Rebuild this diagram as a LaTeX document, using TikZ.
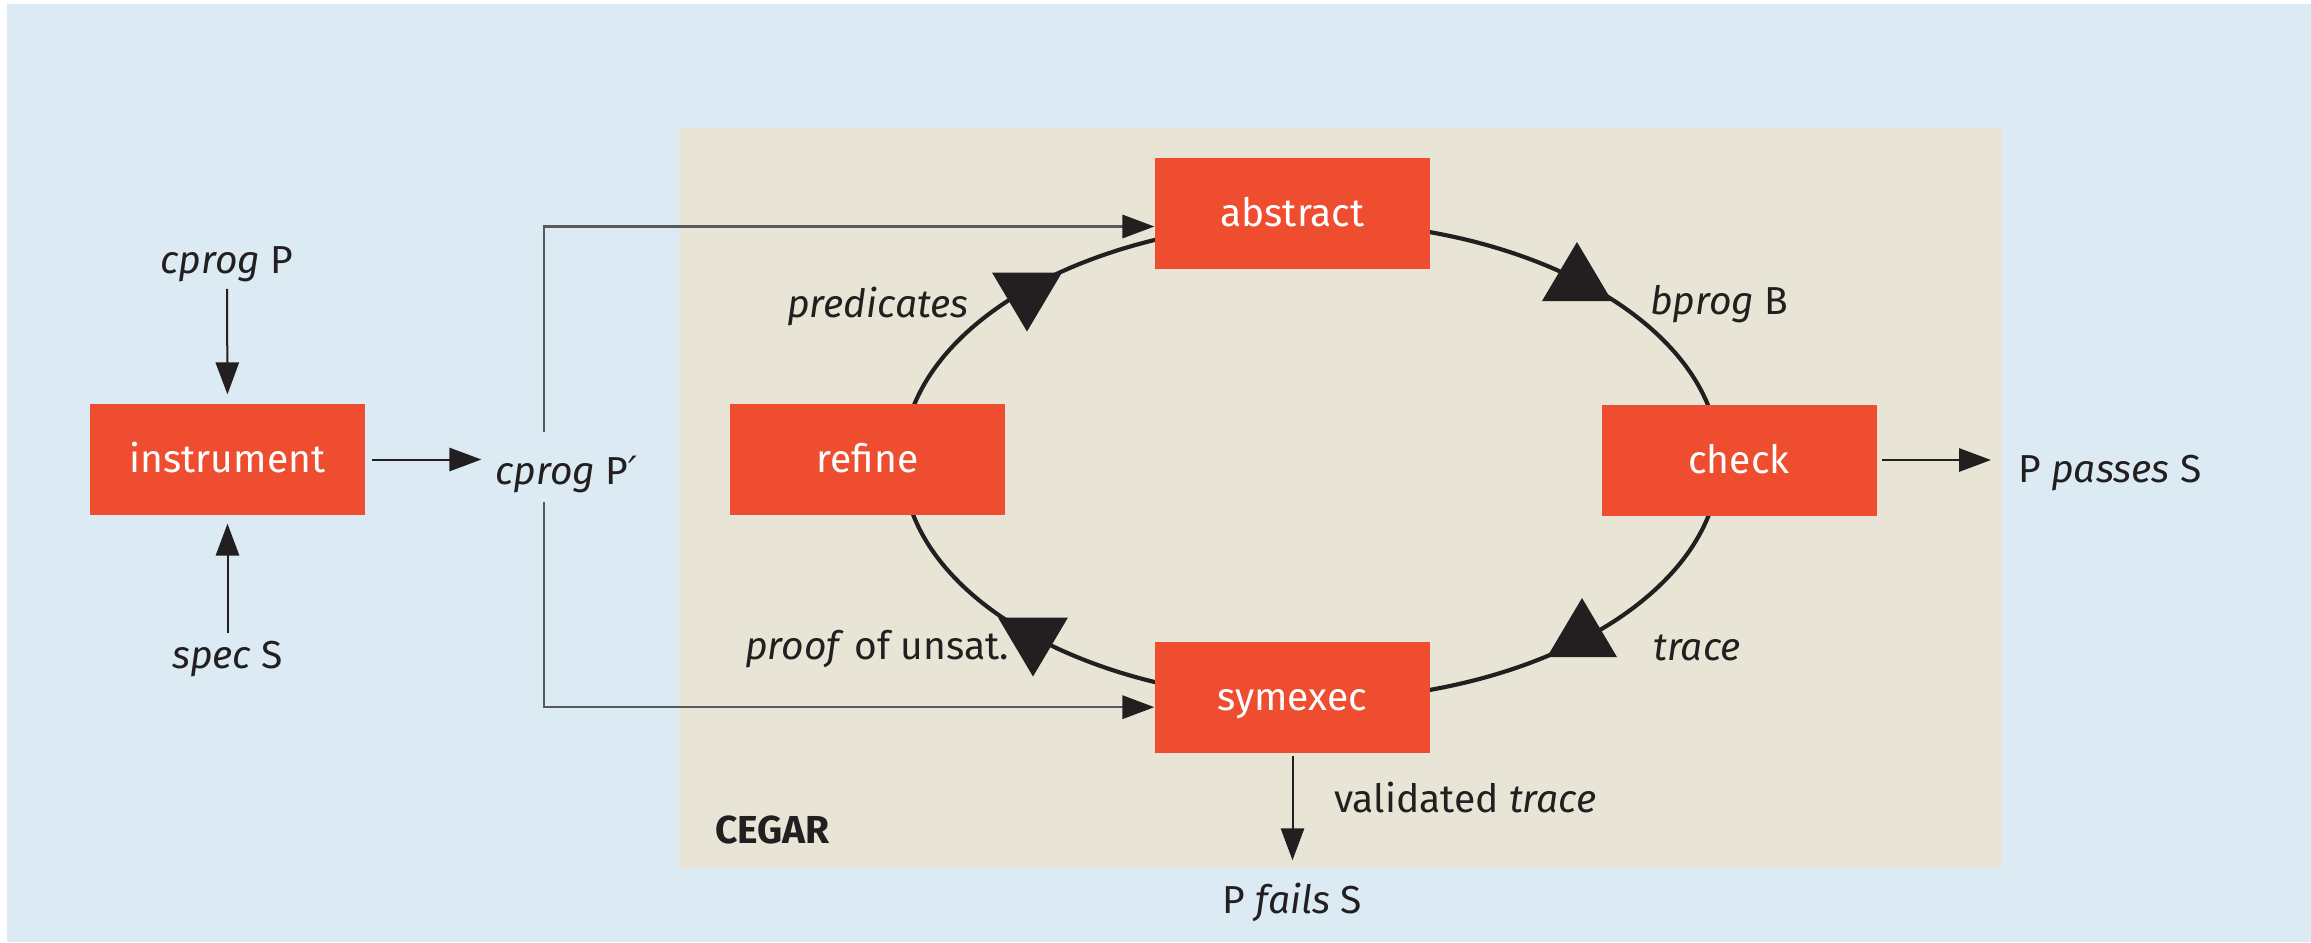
\documentclass[tikz,border=0pt]{standalone}
\usepackage{fontspec}
\setmainfont{Fira Sans}
\newfontfamily\primefont{DejaVu Sans}
\usetikzlibrary{arrows.meta}
\definecolor{bgblue}{RGB}{220,234,243}
\definecolor{bgbeige}{RGB}{233,229,214}
\definecolor{boxred}{RGB}{239,77,47}
\definecolor{ink}{RGB}{35,31,32}
\definecolor{feed}{RGB}{88,89,91}
\begin{document}
\begin{tikzpicture}[x=0.3pt,y=-0.3pt,
  every node/.style={text=ink},
  font=\fontsize{11.7}{14}\selectfont,
  stage/.style={fill=boxred, text=white, minimum width=82.5pt, minimum height=33.3pt,
    inner sep=0pt, text height=8.5pt, text depth=0.7pt},
  lbl/.style={inner sep=2pt},
  arr/.style={draw=ink, line width=0.6pt, -{Triangle[length=9.6pt,width=7pt]}},
  feedarr/.style={draw=feed, line width=0.75pt, -{Triangle[length=9.6pt,width=7pt,color=ink]}},
  cycleline/.style={draw=ink, line width=1.25pt},
  tridown/.pic={\fill[ink] (-35,0) -- (35,0) -- (0,59) -- cycle;},
  triup/.pic={\fill[ink] (0,0) -- (-35,59) -- (35,59) -- cycle;}
]
\useasboundingbox (0,0) rectangle (2311,942);
% backgrounds
\fill[white] (0,0) rectangle (2311,942);
\fill[bgblue] (7,4) rectangle (2311,942);
\fill[bgbeige] (679,128) rectangle (2002,868);

% the CEGAR cycle
\coordinate (loopc) at (1311,461);
\draw[cycleline] (loopc) ellipse [x radius=408.2, y radius=239.2];
\pic at (1027,272.5) {tridown};
\pic at (1577,242) {triup};
\pic at (1033,617.5) {tridown};
\pic at (1582,598) {triup};

% stages
\node[stage] (instrument) at (227.5,459.5) {instrument};
\node[stage] (abstract) at (1292.5,213.5) {abstract};
\node[stage] (refine) at (867.5,459.5) {refine};
\node[stage] (check) at (1739,460) {check};
\node[stage] (symexec) at (1292.5,697.5) {symexec};

% labels
\node[lbl, anchor=base] (cprogP) at (227,273) {\textit{cprog} P};
\node[lbl, anchor=base] (specS) at (227.5,668) {\textit{spec} S};
\node[lbl, anchor=base west] (cprogPp) at (488,484) {\textit{cprog} P{\primefont\itshape ′}};
\node[lbl, anchor=base west] (predicates) at (780,317) {\textit{predicates}};
\node[lbl, anchor=base west] (bprogB) at (1643,314) {\textit{bprog} B};
\node[lbl, anchor=base west] (proof) at (738,659) {\textit{proof} of unsat.};
\node[lbl, anchor=base west] (tracelbl) at (1646,660) {\textit{trace}};
\node[lbl, anchor=base west] (validated) at (1327,812) {validated \textit{trace}};
\node[lbl, anchor=base] (fails) at (1292.5,913) {P \textit{fails} S};
\node[lbl, anchor=base west] (passes) at (2011,482) {P \textit{passes} S};
\node[lbl, anchor=base west, font=\fontsize{11.7}{14}\selectfont\bfseries] (cegar) at (708,843) {CEGAR};

% inputs and outputs
\draw[arr, shorten >=2.7pt] (cprogP.south) -- (instrument.north);
\draw[arr, shorten >=2.4pt] (specS.north) -- (instrument.south);
\draw[arr, shorten <=2pt, shorten >=2pt] (instrument.east) -- (instrument.east -| cprogPp.west);
\draw[arr, shorten <=1.5pt, shorten >=6pt] (check.east) -- (check.east -| passes.west);
\draw[arr, shorten <=0.6pt, shorten >=4.5pt] (symexec.south) -- (fails.north);

% the instrumented program feeds abstract and symexec
\coordinate (ptop) at (544,432);
\coordinate (pbot) at (544,502);
\draw[feedarr] (ptop) |- ([yshift=-3.9pt]abstract.west);
\draw[feedarr] (pbot) |- ([yshift=-2.9pt]symexec.west);
\end{tikzpicture}
\end{document}
